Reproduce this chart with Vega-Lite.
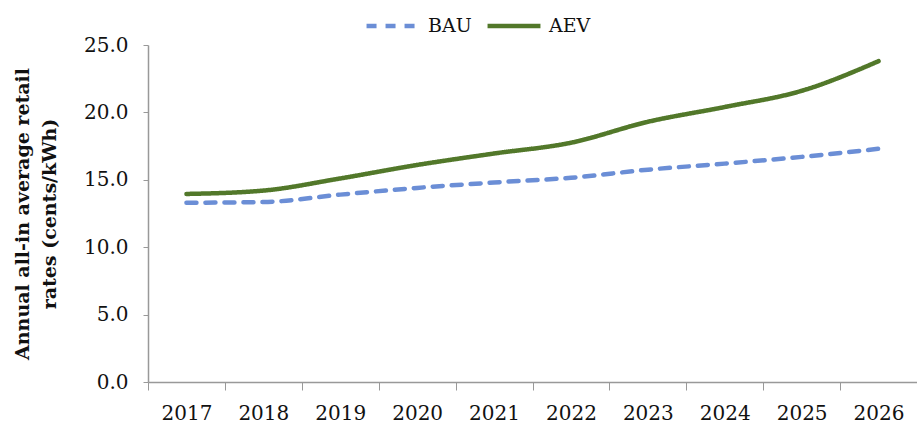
{
  "$schema": "https://vega.github.io/schema/vega-lite/v6.json",
  "width": 769,
  "height": 337,
  "autosize": {"type": "none"},
  "padding": {"left": 148, "top": 45, "right": 0, "bottom": 42},
  "background": "white",
  "config": {
    "font": "DejaVu Serif",
    "view": {"stroke": null}
  },
  "data": {
    "values": [
      {"year": "2017", "series": "BAU", "rate": 13.3},
      {"year": "2018", "series": "BAU", "rate": 13.35},
      {"year": "2019", "series": "BAU", "rate": 13.9},
      {"year": "2020", "series": "BAU", "rate": 14.4},
      {"year": "2021", "series": "BAU", "rate": 14.8},
      {"year": "2022", "series": "BAU", "rate": 15.15},
      {"year": "2023", "series": "BAU", "rate": 15.75},
      {"year": "2024", "series": "BAU", "rate": 16.2},
      {"year": "2025", "series": "BAU", "rate": 16.7},
      {"year": "2026", "series": "BAU", "rate": 17.3},
      {"year": "2017", "series": "AEV", "rate": 13.95},
      {"year": "2018", "series": "AEV", "rate": 14.2},
      {"year": "2019", "series": "AEV", "rate": 15.1},
      {"year": "2020", "series": "AEV", "rate": 16.1},
      {"year": "2021", "series": "AEV", "rate": 16.95},
      {"year": "2022", "series": "AEV", "rate": 17.75},
      {"year": "2023", "series": "AEV", "rate": 19.3},
      {"year": "2024", "series": "AEV", "rate": 20.4},
      {"year": "2025", "series": "AEV", "rate": 21.6},
      {"year": "2026", "series": "AEV", "rate": 23.8}
    ]
  },
  "mark": {"type": "line", "strokeWidth": 4.5, "interpolate": "monotone", "strokeCap": "round"},
  "encoding": {
    "x": {
      "field": "year",
      "type": "ordinal",
      "bandPosition": 0.5,
      "scale": {"type": "band", "paddingInner": 0, "paddingOuter": 0},
      "axis": {
        "title": null,
        "labelAngle": 0,
        "labelFont": "DejaVu Serif",
        "labelFontSize": 20,
        "labelColor": "#111111",
        "labelPadding": 13,
        "tickBand": "extent",
        "tickSize": 8,
        "tickColor": "#999999",
        "domainColor": "#999999",
        "domainWidth": 1.5,
        "grid": false
      }
    },
    "y": {
      "field": "rate",
      "type": "quantitative",
      "scale": {"domain": [0, 25], "nice": false},
      "axis": {
        "values": [0, 5, 10, 15, 20, 25],
        "format": ".1f",
        "title": ["Annual all-in average retail", "rates (cents/kWh)"],
        "titleFont": "DejaVu Serif",
        "titleFontSize": 19,
        "titleFontWeight": "bold",
        "titleColor": "#111111",
        "titlePadding": 24,
        "titleLineHeight": 27,
        "labelFont": "DejaVu Serif",
        "labelFontSize": 20,
        "labelColor": "#111111",
        "labelPadding": 15,
        "tickSize": 5,
        "tickColor": "#999999",
        "domainColor": "#999999",
        "domainWidth": 1.5,
        "grid": false
      }
    },
    "color": {
      "field": "series",
      "type": "nominal",
      "scale": {"domain": ["BAU", "AEV"], "range": ["#6B8ED6", "#52782A"]},
      "legend": {
        "title": null,
        "orient": "none",
        "legendX": 216,
        "legendY": -48,
        "direction": "horizontal",
        "symbolType": "stroke",
        "symbolSize": 2800,
        "symbolStrokeWidth": 4.5,
        "labelFont": "DejaVu Serif",
        "labelFontSize": 19,
        "labelColor": "#111111",
        "columnPadding": 6,
        "labelOffset": 6
      }
    },
    "strokeDash": {
      "field": "series",
      "type": "nominal",
      "scale": {"domain": ["BAU", "AEV"], "range": [[10, 9], [1, 0]]},
      "legend": null
    }
  }
}
